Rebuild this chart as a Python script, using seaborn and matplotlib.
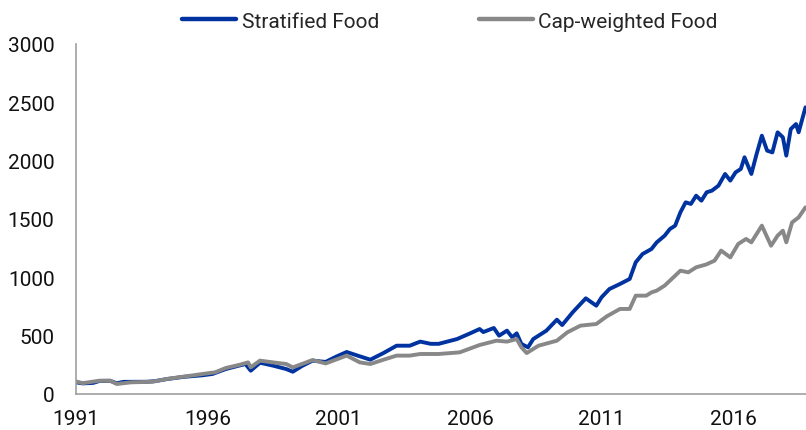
import matplotlib
matplotlib.use("Agg")
import matplotlib.pyplot as plt
import seaborn as sns
import pandas as pd

# ---- data (decimal year, index level) ----
strat_years = [1991.0, 1991.25, 1991.65, 1991.9, 1992.3, 1992.55, 1992.8, 1993.7, 1994.0, 1994.46,
               1995.1, 1995.8, 1996.2, 1996.7, 1997.2, 1997.45, 1997.65, 1998.0, 1998.5, 1999.0,
               1999.25, 1999.6, 2000.0, 2000.5, 2000.9, 2001.3, 2001.8, 2002.2, 2002.7, 2003.2,
               2003.7, 2004.1, 2004.5, 2004.8, 2005.5, 2006.0, 2006.36, 2006.5, 2006.9, 2007.1,
               2007.4, 2007.6, 2007.77, 2007.95, 2008.2, 2008.4, 2008.9, 2009.3, 2009.5, 2009.9,
               2010.4, 2010.8, 2011.0, 2011.3, 2011.7, 2012.07, 2012.3, 2012.56, 2012.9, 2013.1,
               2013.4, 2013.6, 2013.8, 2014.0, 2014.2, 2014.4, 2014.6, 2014.8, 2015.0, 2015.2,
               2015.45, 2015.7, 2015.9, 2016.1, 2016.3, 2016.44, 2016.7, 2016.9, 2017.1, 2017.3,
               2017.5, 2017.7, 2017.9, 2018.03, 2018.2, 2018.4, 2018.5, 2018.76]
strat_values = [100, 91, 95, 112, 113, 92, 104, 105, 110, 128,
                147, 160, 172, 214, 243, 257, 200, 268, 243, 214,
                191, 240, 286, 275, 320, 360, 323, 294, 351, 414,
                414, 449, 430, 430, 471, 520, 557, 531, 566, 500,
                543, 486, 520, 429, 400, 471, 543, 637, 591, 700,
                820, 757, 829, 900, 943, 986, 1129, 1200, 1243, 1300,
                1357, 1414, 1443, 1557, 1643, 1629, 1700, 1657, 1729, 1743,
                1786, 1886, 1829, 1900, 1929, 2029, 1886, 2057, 2214, 2086,
                2071, 2243, 2200, 2043, 2271, 2314, 2243, 2457]

cap_years = [1991.0, 1991.25, 1991.9, 1992.3, 1992.55, 1993.1, 1993.9, 1994.46, 1995.1, 1995.8,
             1996.3, 1996.7, 1997.2, 1997.55, 1997.65, 1998.0, 1998.5, 1999.0, 1999.25, 2000.0,
             2000.5, 2001.3, 2001.8, 2002.2, 2002.7, 2003.2, 2003.7, 2004.1, 2004.8, 2005.6,
             2006.36, 2007.0, 2007.4, 2007.77, 2007.95, 2008.15, 2008.6, 2009.3, 2009.7, 2010.2,
             2010.8, 2011.2, 2011.7, 2012.07, 2012.3, 2012.7, 2012.9, 2013.1, 2013.4, 2013.8,
             2014.0, 2014.3, 2014.6, 2014.98, 2015.3, 2015.55, 2015.9, 2016.2, 2016.5, 2016.7,
             2017.1, 2017.45, 2017.7, 2017.9, 2018.03, 2018.25, 2018.5, 2018.76]
cap_values = [108, 93, 114, 114, 86, 100, 105, 129, 149, 171,
              186, 223, 249, 271, 229, 286, 271, 257, 228, 291,
              262, 329, 271, 257, 294, 329, 329, 343, 343, 357,
              420, 457, 449, 471, 400, 351, 414, 457, 529, 586,
              600, 666, 729, 729, 843, 843, 871, 886, 929, 1014,
              1057, 1043, 1086, 1110, 1143, 1229, 1171, 1286, 1329, 1300,
              1443, 1271, 1357, 1400, 1300, 1471, 1514, 1600]

series_names = ["Stratified Food", "Cap-weighted Food"]
x_ticks = [1991, 1996, 2001, 2006, 2011, 2016]
y_ticks = [0, 500, 1000, 1500, 2000, 2500, 3000]

df = pd.concat([
    pd.DataFrame({"year": strat_years, "value": strat_values, "series": series_names[0]}),
    pd.DataFrame({"year": cap_years, "value": cap_values, "series": series_names[1]}),
], ignore_index=True)

sns.set_theme(style="white")
plt.rcParams["font.family"] = ["Roboto", "DejaVu Sans"]

fig = plt.figure(figsize=(8.06, 4.31), dpi=100)
ax = fig.add_axes([76 / 806, 1 - 395 / 431, 1 - 76 / 806, (395 - 45) / 431])

palette = {series_names[0]: "#0033a0", series_names[1]: "#888888"}
sns.lineplot(data=df, x="year", y="value", hue="series", hue_order=series_names,
             palette=palette, linewidth=2.8, ax=ax, sort=True, estimator=None)

ax.set_xlim(1991, 2018.78)
ax.set_ylim(0, 3000)
ax.set_xticks(x_ticks)
ax.set_xticklabels([str(t) for t in x_ticks])
ax.set_yticks(y_ticks)
ax.set_yticklabels([str(t) for t in y_ticks])
ax.set_xlabel("")
ax.set_ylabel("")

for side in ["top", "right"]:
    ax.spines[side].set_visible(False)
for side in ["left", "bottom"]:
    ax.spines[side].set_color("#a0a0a0")
    ax.spines[side].set_linewidth(1.2)

ax.tick_params(axis="both", which="major", direction="out", length=4.5, width=1.2,
               color="#a0a0a0", labelsize=15, labelcolor="#111111")
ax.tick_params(axis="y", pad=11)
ax.tick_params(axis="x", pad=6)

handles, labels = ax.get_legend_handles_labels()
ax.legend_.remove()
fig.legend(handles, labels, loc="center", bbox_to_anchor=(450 / 806, 1 - 22 / 431),
           ncol=2, frameon=False, fontsize=15, handlelength=2.6, handletextpad=0.25,
           columnspacing=4.8, borderaxespad=0)
for h in fig.legends[0].legend_handles:
    h.set_linewidth(3.2)

fig.savefig("out.png", dpi=100)
